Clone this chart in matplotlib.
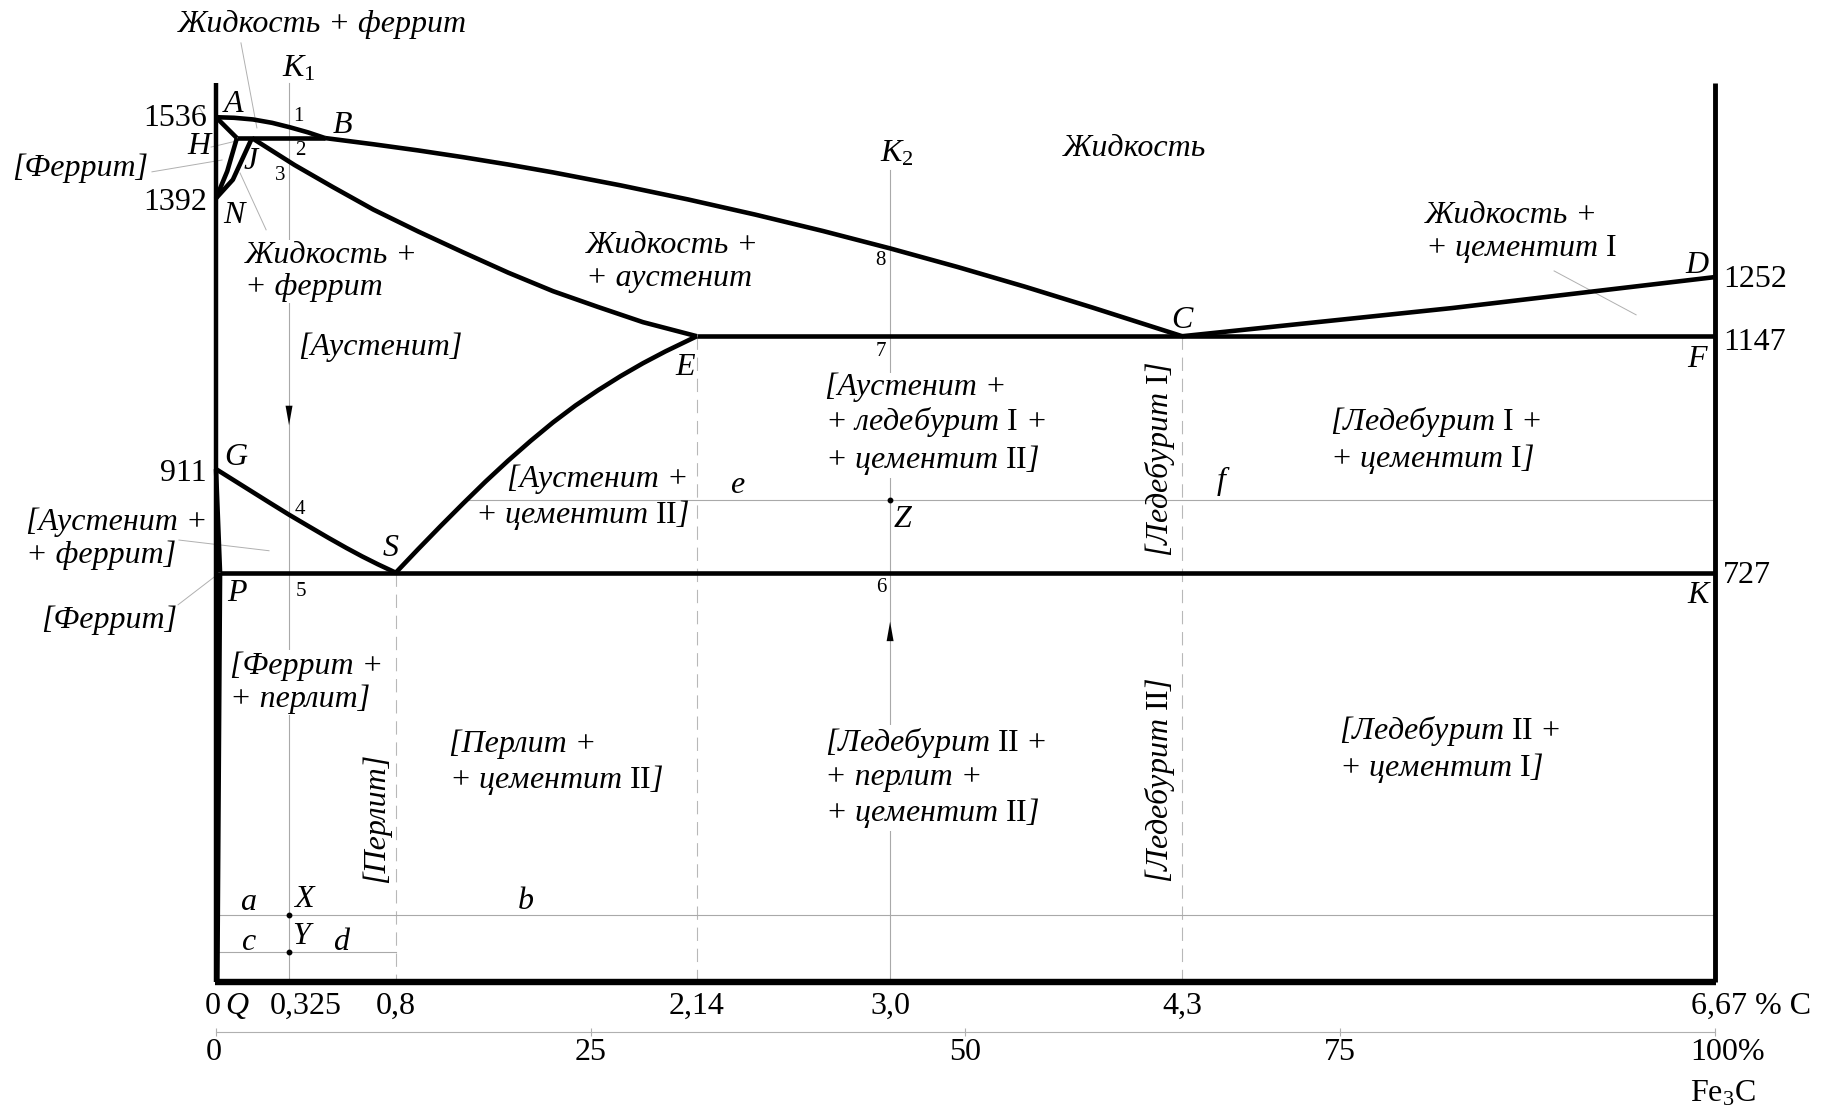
import matplotlib
matplotlib.use('Agg')
import matplotlib.pyplot as plt

plt.rcParams['font.family'] = ['Liberation Serif', 'DejaVu Serif']
plt.rcParams['mathtext.fontset'] = 'custom'
plt.rcParams['mathtext.rm'] = 'Liberation Serif'
plt.rcParams['mathtext.it'] = 'Liberation Serif:italic'
plt.rcParams['mathtext.bf'] = 'Liberation Serif:bold'

# ---------------- data: composition (% C) and temperature (deg C) ----------------
C_MAX = 6.67
T_TOP = 1597
T_K2_TOP = 1442

AB_x = [0.0, 0.08, 0.165, 0.25, 0.33, 0.41, 0.485]
AB_T = [1536, 1535, 1532, 1526, 1518, 1509, 1499]
AH_x = [0.0, 0.093]
AH_T = [1536, 1499]
HN_x = [0.093, 0.05, 0.0]
HN_T = [1499, 1440, 1392]
JN_x = [0.16, 0.075, 0.0]
JN_T = [1499, 1425, 1392]
HJB_x = [0.093, 0.485]
HJB_T = [1499, 1499]
BC_x = [0.485, 0.7, 0.9, 1.1, 1.3, 1.5, 1.8, 2.1, 2.4, 2.7, 3.0, 3.3, 3.6, 3.9, 4.3]
BC_T = [1499, 1488, 1477, 1465, 1452, 1438, 1415, 1390, 1363, 1334, 1303, 1270, 1235, 1198, 1147]
JE_x = [0.16, 0.35, 0.52, 0.7, 0.9, 1.1, 1.3, 1.5, 1.7, 1.9, 2.14]
JE_T = [1499, 1451, 1412, 1372, 1333, 1296, 1260, 1227, 1199, 1172, 1147]
ES_x = [0.8, 0.9, 1.0, 1.1, 1.2, 1.3, 1.4, 1.5, 1.6, 1.7, 1.8, 1.9, 2.0, 2.14]
ES_T = [727, 769, 810, 850, 889, 926, 961, 994, 1024, 1051, 1076, 1099, 1120, 1147]
GS_x = [0.0, 0.08, 0.16, 0.24, 0.325, 0.41, 0.5, 0.58, 0.65, 0.72, 0.8]
GS_T = [911, 891, 871, 851, 830, 810, 789, 771, 756, 742, 727]
CD_x = [4.3, 5.5, 6.67]
CD_T = [1147, 1197, 1252]
ECF_x = [2.14, 6.67]
ECF_T = [1147, 1147]
GP_x = [0.0, 0.018]
GP_T = [911, 727]
PQ_x = [0.018, 0.006]
PQ_T = [727, 0]
PSK_x = [0.018, 6.67]
PSK_T = [727, 727]

K1_x = 0.325
K2_x = 3.0
dashed_x = [0.8, 2.14, 4.3]
dashed_T = [727, 1147, 1147]
line_e_T = 856
line_e_x0 = 1.11
line_X_T = 119
line_Y_T = 53
dots_x = [0.325, 0.325, 3.0]
dots_T = [119, 53, 856]

fe3c_pct = [0, 25, 50, 75, 100]
fe3c_labels = ['0', '25', '50', '75', '100%']
T_FE3C_AXIS = -89

comp_ticks = [0.40, 0.8, 2.14, 3.0, 4.3]
comp_labels = ['0,325', '0,8', '2,14', '3,0', '4,3']

# ---------------- figure ----------------
fig = plt.figure(figsize=(18.32, 11.12), dpi=100)
ax = fig.add_axes([0, 0, 1, 1])
ax.set_xlim(-0.9613, 7.1918)
ax.set_ylim(-230.9, 1744.2)
ax.axis('off')

BLACK = 'black'
GRAY = '#a9a9a9'
LW = 3.3

def thick(x, y, lw=LW):
    ax.plot(x, y, color=BLACK, lw=lw, solid_capstyle='butt', solid_joinstyle='round', zorder=5)

def thin(x, y, lw=0.8, color=GRAY, **kw):
    ax.plot(x, y, color=color, lw=lw, zorder=2, **kw)

# thin construction lines
thin([K1_x, K1_x], [T_TOP, 0])
thin([K2_x, K2_x], [T_K2_TOP, 0])
for xd, td in zip(dashed_x, dashed_T):
    ax.plot([xd, xd], [td, 0], color='#b8b8b8', lw=0.8, dashes=(12, 7), zorder=2)
thin([line_e_x0, C_MAX], [line_e_T, line_e_T])
thin([0, C_MAX], [line_X_T, line_X_T])
thin([0, 0.8], [line_Y_T, line_Y_T])
ax.plot(dots_x, dots_T, 'o', color=BLACK, ms=3.2, zorder=6)

# leader lines
leaders = [((0.111, 0.182), (1668, 1517)), ((-0.285, 0.027), (1439, 1460)),
           ((-0.022, 0.093), (1483, 1494)), ((0.107, 0.223), (1437, 1336)),
           ((-0.165, 0.236), (785, 766)), ((-0.169, -0.009), (670, 719)),
           ((5.955, 6.32), (1263, 1185)), ((-0.076, -0.053), (1554, 1540))]
for lx, lt in leaders:
    thin(lx, lt, lw=0.7, color='#b0b0b0')

# arrows on K1 (down) and K2 (up)
ax.annotate('', xy=(K1_x, 984), xytext=(K1_x, 1030),
            arrowprops=dict(arrowstyle='-|>,head_length=1.4,head_width=0.25', color=BLACK, lw=0.01), zorder=6)
ax.annotate('', xy=(K2_x, 645), xytext=(K2_x, 600),
            arrowprops=dict(arrowstyle='-|>,head_length=1.4,head_width=0.25', color=BLACK, lw=0.01), zorder=6)

# frame
thick([0, 0], [T_TOP, 0], lw=3.2)
thick([C_MAX, C_MAX], [T_TOP, 0], lw=3.5)
thick([-0.005, C_MAX + 0.007], [0, 0], lw=4.6)

# phase boundaries
for xs, ts in [(AB_x, AB_T), (AH_x, AH_T), (HN_x, HN_T), (JN_x, JN_T), (HJB_x, HJB_T),
               (BC_x, BC_T), (JE_x, JE_T), (ES_x, ES_T), (GS_x, GS_T), (CD_x, CD_T),
               (ECF_x, ECF_T), (GP_x, GP_T), (PQ_x, PQ_T), (PSK_x, PSK_T)]:
    thick(xs, ts)

# Fe3C scale
fx = [p / 100 * C_MAX for p in fe3c_pct]
thin([0, C_MAX], [T_FE3C_AXIS, T_FE3C_AXIS], lw=0.8, color='#b0b0b0')
ax.plot(fx, [T_FE3C_AXIS] * len(fx), '|', color='#b0b0b0', ms=6, mew=0.8, zorder=2)

# ---------------- text ----------------
FS = 23
WB = dict(facecolor='white', edgecolor='none', pad=1.0)

def lab(x, t, s, size=FS, style='italic', ha='left', va='center', **kw):
    ax.text(x, t, s, fontsize=size, fontstyle=style, ha=ha, va=va, zorder=7,
            linespacing=1.15, **kw)

# region labels
lab(0.472, 1700, 'Жидкость + феррит', ha='center')
lab(-0.303, 1446, '[Феррит]', ha='right')
lab(0.129, 1262, 'Жидкость +\n+ феррит', bbox=WB)
lab(0.365, 1128, '[Аустенит]')
lab(1.647, 1279, 'Жидкость +\n+ аустенит')
lab(3.769, 1481, 'Жидкость')
lab(5.380, 1330, 'Жидкость +\n+ цементит $\\mathrm{I}$')
lab(2.710, 990, '[Аустенит +\n+ ледебурит $\\mathrm{I}$ +\n+ цементит $\\mathrm{II}$]', bbox=WB)
lab(4.958, 962, '[Ледебурит $\\mathrm{I}$ +\n+ цементит $\\mathrm{I}$]')
lab(2.105, 859, '[Аустенит +\n+ цементит $\\mathrm{II}$]', ha='right', multialignment='right')
lab(-0.846, 788, '[Аустенит +\n+ феррит]')
lab(-0.779, 642, '[Феррит]')
lab(0.062, 532, '[Феррит +\n+ перлит]', bbox=WB)
lab(0.712, 291, '[Перлит]', ha='center', rotation=90)
lab(1.037, 388, '[Перлит +\n+ цементит $\\mathrm{II}$]')
lab(2.710, 362, '[Ледебурит $\\mathrm{II}$ +\n+ перлит +\n+ цементит $\\mathrm{II}$]', bbox=WB)
lab(4.201, 929, '[Ледебурит $\\mathrm{I}$]', ha='center', rotation=90)
lab(4.201, 359, '[Ледебурит $\\mathrm{II}$]', ha='center', rotation=90)
lab(4.998, 413, '[Ледебурит $\\mathrm{II}$ +\n+ цементит $\\mathrm{I}$]')

# point letters
letters = [('A', 0.076, 1558), ('B', 0.561, 1521), ('H', -0.076, 1484), ('J', 0.156, 1457),
           ('N', 0.080, 1361), ('G', 0.089, 931), ('P', 0.093, 690), ('S', 0.779, 770),
           ('E', 2.087, 1091), ('C', 4.299, 1175), ('D', 6.591, 1272), ('F', 6.591, 1105),
           ('K', 6.596, 686), ('e', 2.319, 882), ('f', 4.473, 889), ('Z', 3.053, 821),
           ('a', 0.142, 141), ('X', 0.392, 146), ('b', 1.380, 143), ('c', 0.142, 70),
           ('Y', 0.378, 80), ('d', 0.556, 70), ('Q', 0.093, -44)]
for s, x, t in letters:
    lab(x, t, s, ha='center')
lab(0.369, 1622, '$\\mathit{K}_{\\mathrm{1}}$', ha='center')
lab(3.031, 1471, '$\\mathit{K}_{\\mathrm{2}}$', ha='center')

# small numbers along K1 / K2
nums = [('1', 0.365, 1538), ('2', 0.374, 1476), ('3', 0.285, 1433), ('4', 0.374, 840),
        ('5', 0.378, 694), ('6', 2.959, 700), ('7', 2.959, 1119), ('8', 2.959, 1281)]
for s, x, t in nums:
    lab(x, t, s, size=15, style='normal', ha='center')

# temperature labels
for t_val, t_pos in [(1536, 1533), (1392, 1384), (911, 903)]:
    lab(-0.040, t_pos, str(t_val), style='normal', ha='right')
for t_val, t_pos in [(1252, 1247), (1147, 1136), (727, 722)]:
    lab(6.707, t_pos, str(t_val), style='normal', ha='left')

# composition labels
lab(-0.013, -44, '0', style='normal', ha='center')
for x, s in zip(comp_ticks, comp_labels):
    lab(x, -44, s, style='normal', ha='center')
lab(6.564, -44, '6,67 % C', style='normal', ha='left')

# Fe3C scale labels
for p, s in zip(fe3c_pct, fe3c_labels):
    xx = p / 100 * C_MAX
    if p == 0:
        xx = -0.01
    if p == 100:
        xx = 6.725
    lab(xx, -126, s, style='normal', ha='center')
lab(6.707, -199, 'Fe$_3$C', style='normal', ha='center')

fig.savefig('out.png', dpi=100, facecolor='white')
